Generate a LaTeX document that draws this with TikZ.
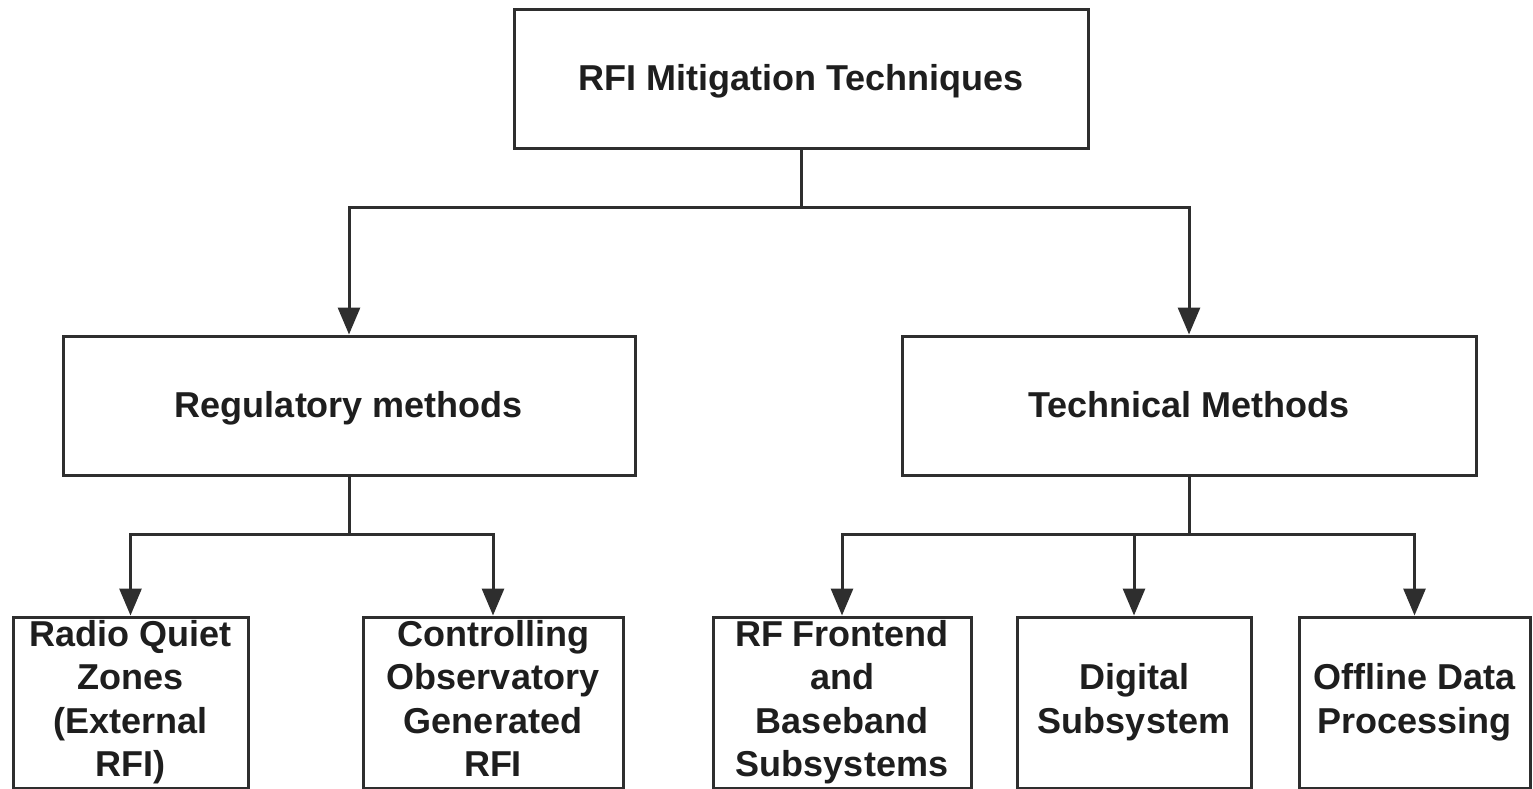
\documentclass[tikz,border=0pt]{standalone}
\usepackage{fontspec}
\setmainfont{Liberation Sans}
\usetikzlibrary{arrows.meta}
\definecolor{linec}{HTML}{2E2E2E}
\definecolor{txtc}{HTML}{1E1E1E}
\newcommand{\topstrut}{\rule{0pt}{31.5pt}}
\newcommand{\botstrut}{\rule[-8.5pt]{0pt}{8.5pt}}
\begin{document}
\begin{tikzpicture}[x=1pt,y=-1pt,
  box/.style={draw=linec, line width=3pt, inner sep=0pt, align=center,
    font=\fontsize{36}{43.5}\selectfont\bfseries, text=txtc, fill=white,
    execute at begin node=\topstrut, execute at end node=\botstrut},
  conn/.style={draw=linec, line width=3pt},
  arr/.style={conn, -{Triangle[length=27pt,width=22pt]}}]
\useasboundingbox (0,0) rectangle (1533,789);
\fill[white] (0,0) rectangle (1533,789);
\node[box, minimum width=574pt, minimum height=138pt] (top) at (801,79) {RFI Mitigation Techniques};
\node[box, minimum width=572pt, minimum height=139pt] (reg) at (349,405.5) {Regulatory methods};
\node[box, minimum width=574pt, minimum height=139pt] (tech) at (1189,405.5) {Technical Methods};
\node[box, minimum width=235pt, minimum height=171pt] (b1) at (130.5,702.5) {Radio Quiet\\Zones\\(External\\RFI)};
\node[box, minimum width=260pt, minimum height=171pt] (b2) at (493,702.5) {Controlling\\Observatory\\Generated\\RFI};
\node[box, minimum width=258pt, minimum height=171pt] (b3) at (842,702.5) {RF Frontend\\and\\Baseband\\Subsystems};
\node[box, minimum width=234pt, minimum height=171pt] (b4) at (1134,702.5) {Digital\\Subsystem};
\node[box, minimum width=231pt, minimum height=171pt] (b5) at (1414.5,702.5) {Offline Data\\Processing};
\coordinate (j1) at (801,207);
\coordinate (j2) at (349,534);
\coordinate (j3) at (1189,534);
\draw[conn] (top.south) -- (j1);
\draw[arr] (j1) -| (reg.north);
\draw[arr] (j1) -| (tech.north);
\draw[conn] (reg.south) -- (j2);
\draw[arr] (j2) -| (b1.north);
\draw[arr] (j2) -| (b2.north);
\draw[conn] (tech.south) -- (j3);
\draw[arr] (j3) -| (b3.north);
\draw[arr] (j3) -| (b4.north);
\draw[arr] (j3) -| (b5.north);
\end{tikzpicture}
\end{document}
